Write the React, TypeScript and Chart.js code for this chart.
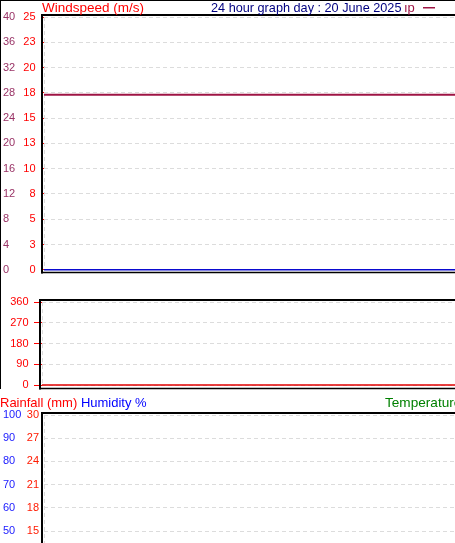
import React, { useEffect, useRef } from 'react';
import { Chart, registerables } from 'chart.js';

Chart.register(...registerables);

const FONT = "'Liberation Sans', Arial, sans-serif";

// ---- data ----
const hours = [0, 2, 4, 6, 8, 10, 12, 14, 16, 18, 20, 22, 24];
const windGust = [17.3, 17.3, 17.3, 17.3, 17.3, 17.3, 17.3, 17.3, 17.3, 17.3, 17.3, 17.3, 17.3];
const windSpeed = [0, 0, 0, 0, 0, 0, 0, 0, 0, 0, 0, 0, 0];
const windDirection = [0, 0, 0, 0, 0, 0, 0, 0, 0, 0, 0, 0, 0];
const rainfall: number[] = [];
const humidity: number[] = [];

// ---- tick labels ----
const windOuterTicks = ['0', '4', '8', '12', '16', '20', '24', '28', '32', '36', '40'];
const windMsTicks = ['0', '3', '5', '8', '10', '13', '15', '18', '20', '23', '25'];
const dirTicks = ['0', '90', '180', '270', '360'];
const humidityTicks = ['0', '10', '20', '30', '40', '50', '60', '70', '80', '90', '100'];
const rainTicks = ['0', '3', '6', '9', '12', '15', '18', '21', '24', '27', '30'];

// ---- text ----
const windTitle = 'Windspeed (m/s)';
const graphTitle = '24 hour graph day : 20 June 2025';
const legendFrag = 'ıp';
const rainTitle = 'Rainfall (mm)';
const humTitle = 'Humidity %';
const tempTitle = 'Temperature (°C)';

const GRID = '#dcdcdc';
const DASH = [4, 3];
const MAROON = '#9e1444';
const OUTER_WIND = '#993366';

Chart.defaults.font.family = FONT;
Chart.defaults.font.size = 11;

const pts = (ys: number[]) => hours.slice(0, ys.length).map((h, i) => ({ x: h, y: ys[i] }));

function framePlugin(bottomOff: number, drawText?: (ctx: CanvasRenderingContext2D, a: any) => void) {
  return {
    id: 'frame',
    beforeDatasetsDraw(chart: any) {
      const { ctx, chartArea: a } = chart;
      ctx.save();
      ctx.strokeStyle = GRID;
      ctx.lineWidth = 1;
      ctx.setLineDash(DASH);
      ctx.beginPath();
      ctx.moveTo(a.left + 0.5, a.top);
      ctx.lineTo(a.left + 0.5, a.bottom);
      ctx.stroke();
      ctx.restore();
    },
    afterDraw(chart: any) {
      const { ctx, chartArea: a } = chart;
      ctx.save();
      ctx.strokeStyle = '#000';
      ctx.setLineDash([]);
      ctx.lineWidth = 2;
      ctx.beginPath();
      ctx.moveTo(a.left - 2, a.top - 3);
      ctx.lineTo(a.left - 2, a.bottom + bottomOff + 1);
      ctx.moveTo(a.left - 3, a.top - 2);
      ctx.lineTo(chart.width + 2, a.top - 2);
      ctx.stroke();
      ctx.lineWidth = 1.5;
      ctx.beginPath();
      ctx.moveTo(a.left - 3, a.bottom + bottomOff);
      ctx.lineTo(chart.width + 2, a.bottom + bottomOff);
      ctx.stroke();
      if (drawText) drawText(ctx, a);
      ctx.restore();
    },
  };
}

function baseOptions(padding: any, scales: any) {
  return {
    responsive: false,
    animation: false as const,
    events: [] as any[],
    layout: { padding },
    plugins: { legend: { display: false }, tooltip: { enabled: false }, title: { display: false } },
    scales: {
      x: { type: 'linear', min: 0, max: 24, display: false },
      ...scales,
    },
  };
}

function windConfig(): any {
  return {
    type: 'line',
    data: {
      datasets: [
        { label: 'Wind gust', data: pts(windGust), yAxisID: 'y', borderColor: MAROON, borderWidth: 2, pointRadius: 0, clip: 4 },
        { label: 'Wind speed', data: pts(windSpeed), yAxisID: 'y', borderColor: '#0a0ad0', borderWidth: 1.5, pointRadius: 0, clip: 4 },
      ],
    },
    options: baseOptions(
      { left: 3, top: 17, right: 0, bottom: 20.25 },
      {
        yOuter: {
          type: 'linear', position: 'left', weight: 2, min: 0, max: 40,
          ticks: { stepSize: 4, color: OUTER_WIND, crossAlign: 'far', padding: 0, callback: (_v: any, i: number) => windOuterTicks[i] },
          grid: { display: false, drawTicks: false },
          border: { display: false },
          afterFit: (s: any) => { s.width = 17; },
        },
        y: {
          type: 'linear', position: 'left', weight: 1, min: 0, max: 25,
          ticks: { stepSize: 2.5, color: '#ff0000', padding: 5.5, callback: (_v: any, i: number) => windMsTicks[i] },
          grid: { color: GRID, tickColor: '#ff0000', tickLength: 3, lineWidth: 1, borderDash: DASH },
          border: { display: false, dash: DASH },
          afterFit: (s: any) => { s.width = 24; },
        },
      }
    ),
    plugins: [
      framePlugin(2.75, (ctx, a) => {
        ctx.textBaseline = 'alphabetic';
        ctx.textAlign = 'left';
        ctx.font = `13.5px ${FONT}`;
        ctx.fillStyle = '#ff0000';
        ctx.fillText(windTitle, a.left - 2, 12);
        ctx.font = `12.7px ${FONT}`;
        ctx.fillStyle = '#000080';
        ctx.fillText(graphTitle, 211, 12);
        ctx.font = `13px ${FONT}`;
        ctx.fillStyle = MAROON;
        ctx.fillText(legendFrag, 404, 12);
        ctx.strokeStyle = MAROON;
        ctx.lineWidth = 1.5;
        ctx.beginPath();
        ctx.moveTo(423, 7.75);
        ctx.lineTo(435, 7.75);
        ctx.stroke();
      }),
    ],
  };
}

function dirConfig(): any {
  return {
    type: 'line',
    data: {
      datasets: [
        { label: 'Wind direction', data: pts(windDirection), yAxisID: 'yDir', borderColor: '#e00000', borderWidth: 1.5, pointRadius: 0, clip: 4 },
      ],
    },
    options: baseOptions(
      { left: 0, top: 11, right: 0, bottom: 15 },
      {
        yDir: {
          type: 'linear', position: 'left', min: 0, max: 360,
          ticks: { stepSize: 90, color: '#ff0000', padding: 5.5, callback: (_v: any, i: number) => dirTicks[i] },
          grid: { color: GRID, tickColor: '#ff0000', tickLength: 8, lineWidth: 1, borderDash: DASH },
          border: { display: false, dash: DASH },
          afterFit: (s: any) => { s.width = 42; },
        },
      }
    ),
    plugins: [framePlugin(3.5)],
  };
}

function rainConfig(): any {
  return {
    type: 'line',
    data: {
      datasets: [
        { label: 'Rainfall', data: pts(rainfall), yAxisID: 'yRain', borderColor: '#ff0000', borderWidth: 1, pointRadius: 0, clip: 4 },
        { label: 'Humidity', data: pts(humidity), yAxisID: 'yHum', borderColor: '#0000ff', borderWidth: 1, pointRadius: 0, clip: 4 },
      ],
    },
    options: baseOptions(
      { left: 3, top: 25, right: 0, bottom: 13 },
      {
        yHum: {
          type: 'linear', position: 'left', weight: 2, min: 0, max: 100,
          ticks: { stepSize: 10, color: '#1a1aff', crossAlign: 'far', padding: 0, callback: (_v: any, i: number) => humidityTicks[i] },
          grid: { display: false, drawTicks: false },
          border: { display: false },
          afterFit: (s: any) => { s.width = 18; },
        },
        yRain: {
          type: 'linear', position: 'left', weight: 1, min: 0, max: 30,
          ticks: { stepSize: 3, color: '#ff1a00', padding: 5, callback: (_v: any, i: number) => rainTicks[i] },
          grid: { color: GRID, drawTicks: false, tickLength: 0, lineWidth: 1, borderDash: DASH },
          border: { display: false, dash: DASH },
          afterFit: (s: any) => { s.width = 23; },
        },
      }
    ),
    plugins: [
      framePlugin(2.5, (ctx) => {
        ctx.font = `13px ${FONT}`;
        ctx.textBaseline = 'alphabetic';
        ctx.textAlign = 'left';
        ctx.fillStyle = '#ff0000';
        ctx.fillText(rainTitle, 0, 17);
        const w = ctx.measureText(rainTitle + ' ').width;
        ctx.fillStyle = '#0000ff';
        ctx.fillText(humTitle, w, 17);
        ctx.font = `13.6px ${FONT}`;
        ctx.fillStyle = '#008000';
        ctx.fillText(tempTitle, 385, 17);
      }),
    ],
  };
}

export default function App() {
  const r1 = useRef<HTMLCanvasElement>(null);
  const r2 = useRef<HTMLCanvasElement>(null);
  const r3 = useRef<HTMLCanvasElement>(null);

  useEffect(() => {
    const charts = [
      new Chart(r1.current!, windConfig()),
      new Chart(r2.current!, dirConfig()),
      new Chart(r3.current!, rainConfig()),
    ];
    return () => charts.forEach((c) => c.destroy());
  }, []);

  return (
    <div style={{ position: 'absolute', left: 0, top: 0, width: 455, height: 543, overflow: 'hidden', background: '#fff' }}>
      <div
        style={{
          position: 'absolute', left: 0, top: 0, width: 455, height: 389,
          borderLeft: '1px solid #000', borderTop: '1px solid #000', boxSizing: 'border-box',
        }}
      />
      <canvas ref={r1} width={455} height={290} style={{ position: 'absolute', left: 0, top: 0 }} />
      <canvas ref={r2} width={455} height={110} style={{ position: 'absolute', left: 0, top: 290 }} />
      <canvas ref={r3} width={455} height={270} style={{ position: 'absolute', left: 0, top: 390 }} />
    </div>
  );
}
